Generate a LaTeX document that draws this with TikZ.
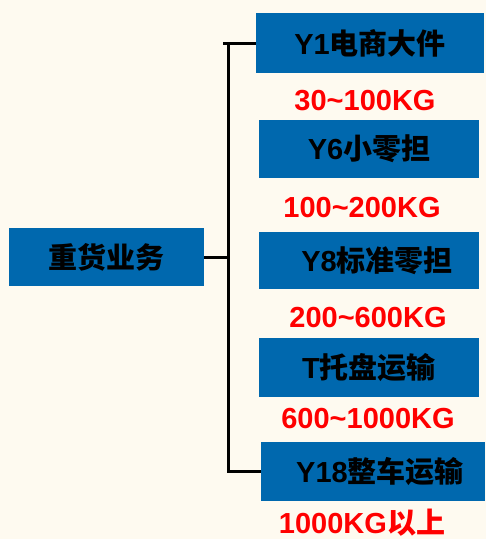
\documentclass[tikz,border=0pt]{standalone}
\usepackage{fontspec}
\setmainfont{Liberation Sans}
\newfontfamily\cjk{Noto Sans CJK SC}
\definecolor{bgc}{HTML}{FEFAF0}
\definecolor{boxblue}{HTML}{0068AE}
\definecolor{lblred}{HTML}{FF0000}
\begin{document}
\begin{tikzpicture}[x=1pt,y=-1pt,
  catbox/.style={fill=boxblue,draw=none,inner sep=0pt,minimum height=58pt,
    font=\fontsize{29}{30}\selectfont\bfseries,text=black},
  wlabel/.style={inner sep=0pt,text=lblred,font=\fontsize{29}{30}\selectfont\bfseries},
  conn/.style={line width=3pt,draw=black}]
\fill[bgc] (0,0) rectangle (486,539);
\useasboundingbox (0,0) rectangle (486,539);
\node[catbox,minimum width=195pt] (root) at (106.5,257) {{\cjk 重货业务}};
\node[catbox,minimum width=228pt,minimum height=60pt] (b1) at (370,43) {Y1{\cjk 电商大件}};
\node[catbox,minimum width=220pt] (b2) at (369,149) {Y6{\cjk 小零担}};
\node[catbox,minimum width=220pt,minimum height=57pt] (b3) at (369,260.5) {\hspace*{16pt}Y8{\cjk 标准零担}};
\node[catbox,minimum width=220pt,minimum height=59pt] (b4) at (369,367.5) {T{\cjk 托盘运输}};
\node[catbox,minimum width=224pt,minimum height=59pt] (b5) at (373,471.5) {\hspace*{14pt}Y18{\cjk 整车运输}};
\node[wlabel] (l1) at (365,101) {30\textasciitilde100KG};
\node[wlabel] (l2) at (362,208) {100\textasciitilde200KG};
\node[wlabel] (l3) at (368,318) {200\textasciitilde600KG};
\node[wlabel] (l4) at (368,419) {600\textasciitilde1000KG};
\node[wlabel] (l5) at (362,522.5) {1000KG{\cjk 以上}};
\coordinate (stub) at (223,43);
\coordinate (sp1) at (228,43);
\draw[conn] (stub) -- (b1.west);
\draw[conn] (sp1) |- (b5.west);
\draw[conn] (root.east) -- (root.east -| sp1);
\end{tikzpicture}
\end{document}
